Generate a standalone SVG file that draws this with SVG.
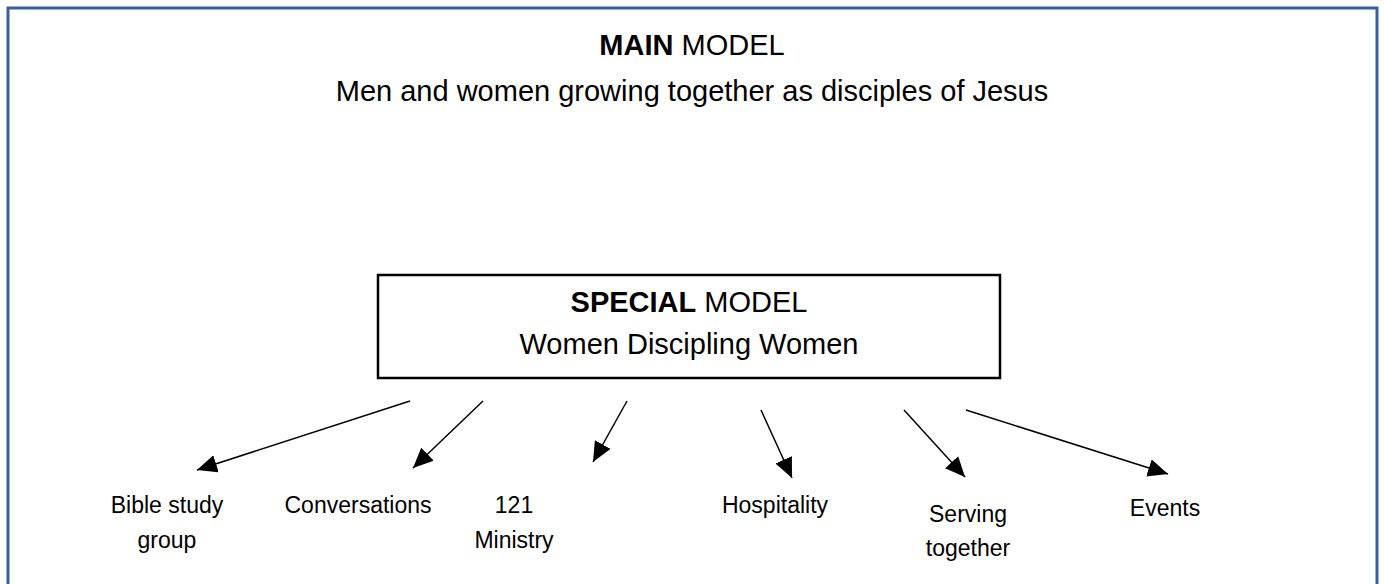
<svg xmlns="http://www.w3.org/2000/svg" width="1384" height="584" viewBox="0 0 1384 584">
  <style>
    .t { font-family: "Liberation Sans", Arial, sans-serif; fill: #000; text-anchor: middle; }
    .title { font-size: 29px; }
    .lbl { font-size: 23px; }
    .b { font-weight: bold; }
    .conn line { stroke: #000; stroke-width: 1.5; marker-end: url(#ah); }
  </style>
  <defs>
    <marker id="ah" viewBox="0 0 20 18" refX="20" refY="9" markerWidth="20" markerHeight="18" markerUnits="userSpaceOnUse" orient="auto">
      <path d="M0,0 L20,9 L0,18 z" fill="#000"/>
    </marker>
  </defs>
  <rect width="1384" height="584" fill="#fff"/>
  <g id="frame">
    <path d="M8,600 L8,8 L1377,8 L1377,600" fill="none" stroke="#3A5F9C" stroke-width="3"/>
  </g>
  <g id="main-model">
    <text class="t title" x="692" y="55"><tspan class="b">MAIN</tspan> MODEL</text>
    <text class="t title" x="692" y="101">Men and women growing together as disciples of Jesus</text>
  </g>
  <g id="special-model">
    <rect x="378" y="275" width="622" height="103" fill="#fff" stroke="#000" stroke-width="2.5"/>
    <text class="t title" x="689" y="312"><tspan class="b">SPECIAL</tspan> MODEL</text>
    <text class="t title" x="689" y="354">Women Discipling Women</text>
  </g>
  <g id="bible-study">
    <text class="t lbl" x="167" y="513">Bible study</text>
    <text class="t lbl" x="167" y="548">group</text>
  </g>
  <g id="conversations">
    <text class="t lbl" x="358" y="513">Conversations</text>
  </g>
  <g id="ministry-121">
    <text class="t lbl" x="514" y="513">121</text>
    <text class="t lbl" x="514" y="548">Ministry</text>
  </g>
  <g id="hospitality">
    <text class="t lbl" x="775" y="513">Hospitality</text>
  </g>
  <g id="serving-together">
    <text class="t lbl" x="968" y="522">Serving</text>
    <text class="t lbl" x="968" y="556">together</text>
  </g>
  <g id="events">
    <text class="t lbl" x="1165" y="516">Events</text>
  </g>
  <g id="connectors" class="conn">
    <line x1="410" y1="401" x2="197" y2="470"/>
    <line x1="483" y1="401" x2="413" y2="468"/>
    <line x1="627" y1="401" x2="593" y2="462"/>
    <line x1="761" y1="410" x2="792" y2="478"/>
    <line x1="904" y1="410" x2="965" y2="477"/>
    <line x1="966" y1="410" x2="1168" y2="474"/>
  </g>
</svg>
